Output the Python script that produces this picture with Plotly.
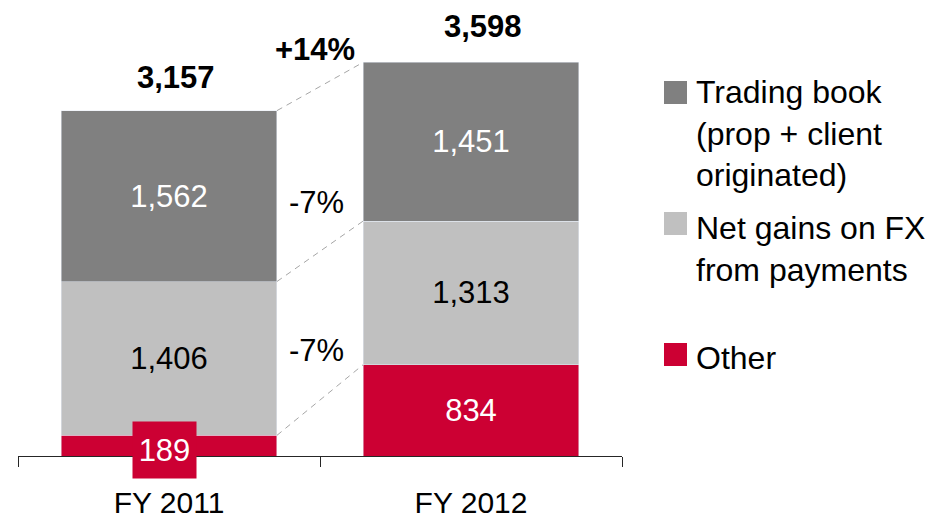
import plotly.graph_objects as go

# data
years = ["FY 2011", "FY 2012"]
other = [189, 834]
fx_gains = [1406, 1313]
trading = [1562, 1451]
series_names = ["Trading book<br>(prop + client<br>originated)", "Net gains on FX<br>from payments", "Other"]

RED = "#CC0033"
LIGHT = "#C0C0C0"
DARK = "#808080"
FONT = "Arial, Liberation Sans, sans-serif"

totals = [o + f + t for o, f, t in zip(other, fx_gains, trading)]
bar_w = 0.715

fig = go.Figure()
# Other: the small 2011 value is drawn as a boxed label below
fig.add_trace(go.Bar(x=years, y=other, marker_color=RED, width=bar_w,
                     text=["" if v < 300 else f"{v:,}" for v in other],
                     textposition="inside", insidetextanchor="middle",
                     textfont=dict(color="white", size=31, family=FONT)))
fig.add_trace(go.Bar(x=years, y=fx_gains, marker_color=LIGHT, width=bar_w,
                     text=[f"{v:,}" for v in fx_gains],
                     textposition="inside", insidetextanchor="middle",
                     textfont=dict(color="black", size=31, family=FONT)))
fig.add_trace(go.Bar(x=years, y=trading, marker_color=DARK, width=bar_w,
                     text=[f"{v:,}" for v in trading],
                     textposition="inside", insidetextanchor="middle",
                     textfont=dict(color="white", size=31, family=FONT)))

# dashed connectors between stack levels
levels = [
    (other[0], other[1]),
    (other[0] + fx_gains[0], other[1] + fx_gains[1]),
    (totals[0], totals[1]),
]
for y0, y1 in levels:
    fig.add_shape(type="line", xref="x", yref="y",
                  x0=0 + bar_w / 2, y0=y0, x1=1 - bar_w / 2, y1=y1,
                  line=dict(color="#A6A6A6", width=1, dash="6px,5px"))

annotations = []
# totals on top
tot_shift = [(7, 33), (12, 36)]
for i, t in enumerate(totals):
    annotations.append(dict(x=i, y=t, text=f"<b>{t:,}</b>", showarrow=False,
                            xshift=tot_shift[i][0], yshift=tot_shift[i][1],
                            font=dict(size=31, color="black", family=FONT)))

# growth rates
g_total = round((totals[1] / totals[0] - 1) * 100)
g_trading = round((trading[1] / trading[0] - 1) * 100)
g_fx = round((fx_gains[1] / fx_gains[0] - 1) * 100)
annotations.append(dict(x=0.483, y=3720, text=f"<b>{g_total:+d}%</b>", showarrow=False,
                        font=dict(size=31, color="black", family=FONT)))
annotations.append(dict(x=0.49, y=2320, text=f"{g_trading:d}%", showarrow=False,
                        font=dict(size=31, color="black", family=FONT)))
annotations.append(dict(x=0.49, y=960, text=f"{g_fx:d}%", showarrow=False,
                        font=dict(size=31, color="black", family=FONT)))

# boxed label for the thin 2011 "Other" segment
annotations.append(dict(x=-0.015, y=other[0] / 2, text=f"{other[0]}", showarrow=False,
                        bgcolor=RED, width=63, height=56, borderpad=0, yshift=-4,
                        font=dict(size=31, color="white", family=FONT)))

# page body has an 8px margin, so the figure sits 8px right/down in the window
OFF = 8
L, T, B = 18 - OFF, 10 - OFF, 519 - (456 - OFF)
W, H = 604, 519 - T - B


def px(xp):
    return (xp - OFF - L) / W


def py(yp):
    return (519 - B - (yp - OFF)) / H


legend_rows = [(series_names[0], DARK, 81, 133), (series_names[1], LIGHT, 212, 249), (series_names[2], RED, 343, 358)]
for name, col, sq_top, txt_mid in legend_rows:
    fig.add_shape(type="rect", xref="paper", yref="paper",
                  x0=px(664), x1=px(687), y0=py(sq_top + 23), y1=py(sq_top),
                  fillcolor=col, line=dict(width=0))
    annotations.append(dict(xref="paper", yref="paper", x=px(694), y=py(txt_mid),
                            xanchor="left", yanchor="middle", align="left",
                            text=name, showarrow=False,
                            font=dict(size=32, color="black", family=FONT)))

fig.update_layout(
    barmode="stack",
    width=946, height=519,
    margin=dict(l=L, r=946 - L - W, t=T, b=B),
    paper_bgcolor="white", plot_bgcolor="white",
    showlegend=False,
    annotations=annotations,
    font=dict(family=FONT, size=30, color="black"),
    xaxis=dict(type="category", range=[-0.5, 1.5], showline=True, linecolor="#262626",
               linewidth=1, ticks="outside", tickson="boundaries", ticklen=10,
               tickcolor="#262626", tickfont=dict(size=30, color="black", family=FONT),
               ticklabelstandoff=20, showgrid=False),
    yaxis=dict(range=[0, 4077], visible=False, showgrid=False, zeroline=False),
)

fig.write_html("out.html")
